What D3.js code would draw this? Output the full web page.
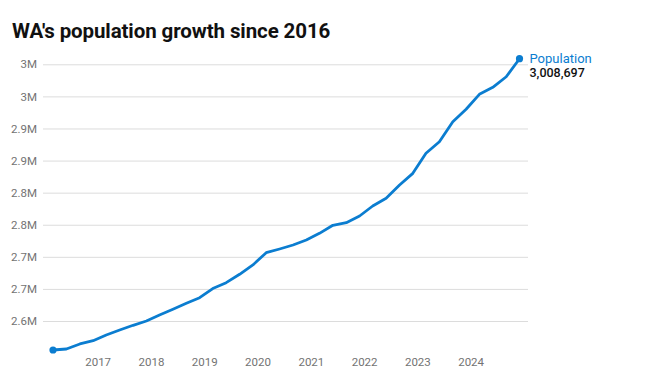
<!DOCTYPE html>
<html>
<head>
<meta charset="utf-8">
<script src="https://cdn.jsdelivr.net/npm/d3@7"></script>
<style>
  html, body { margin: 0; padding: 0; background: #fff; }
  svg { display: block; }
</style>
</head>
<body>
<svg id="chart" width="650" height="387"></svg>
<script>
// Quarterly WA population (Mar 2016 – Dec 2024)
const quarters = [
  "2016-03","2016-06","2016-09","2016-12",
  "2017-03","2017-06","2017-09","2017-12",
  "2018-03","2018-06","2018-09","2018-12",
  "2019-03","2019-06","2019-09","2019-12",
  "2020-03","2020-06","2020-09","2020-12",
  "2021-03","2021-06","2021-09","2021-12",
  "2022-03","2022-06","2022-09","2022-12",
  "2023-03","2023-06","2023-09","2023-12",
  "2024-03","2024-06","2024-09","2024-12"
];
const population = [
  2554800, 2556400, 2564200, 2569300,
  2578200, 2586000, 2593300, 2600000,
  2609300, 2618200, 2627600, 2636300,
  2650600, 2659700, 2672800, 2687300,
  2706400, 2712200, 2718400, 2726200,
  2736600, 2749100, 2753200, 2763600,
  2779200, 2791200, 2811900, 2830100,
  2861300, 2879400, 2910500, 2929900,
  2953200, 2964100, 2980600, 3008697
];
const yTicks = [2600000, 2650000, 2700000, 2750000, 2800000, 2850000, 2900000, 2950000, 3000000];
const xTickYears = [2017, 2018, 2019, 2020, 2021, 2022, 2023, 2024];
const title = "WA's population growth since 2016";
const seriesName = "Population";

const parse = d3.timeParse("%Y-%m");
const data = quarters.map((q, i) => ({ date: parse(q), value: population[i] }));

const svg = d3.select("#chart");
const blue = "#0b7dd0";

const x = d3.scaleTime()
  .domain([data[0].date, data[data.length - 1].date])
  .range([53, 519.5]);
const y = d3.scaleLinear()
  .domain([2600000, 3000000])
  .range([321, 64.3]);

// Title
svg.append("text")
  .attr("x", 12).attr("y", 38)
  .attr("font-family", "Roboto, 'Noto Sans', sans-serif")
  .attr("font-weight", 700)
  .attr("font-size", 20.5)
  .attr("letter-spacing", -0.1)
  .attr("fill", "#111")
  .text(title);

// Y axis with gridlines
const yAxis = d3.axisLeft(y)
  .tickValues(yTicks)
  .tickSize(-(528 - 43))
  .tickPadding(6)
  .tickFormat(d3.format(".2~s"));
const gy = svg.append("g").attr("transform", "translate(43,0)").call(yAxis);
gy.select(".domain").remove();
gy.selectAll(".tick line").attr("stroke", "#dcdcdc").attr("stroke-width", 1);
gy.selectAll(".tick text")
  .attr("fill", "#737373")
  .attr("font-size", 11.5)
  .attr("font-family", "Roboto, 'Noto Sans', sans-serif");

// X axis
const xAxis = d3.axisBottom(x)
  .tickValues(xTickYears.map(yr => new Date(yr, 0, 1)))
  .tickSize(0)
  .tickPadding(0)
  .tickFormat(d3.timeFormat("%Y"));
const gx = svg.append("g").attr("transform", "translate(0,355)").call(xAxis);
gx.select(".domain").remove();
gx.selectAll(".tick text")
  .attr("fill", "#737373")
  .attr("font-size", 11.5)
  .attr("dy", "0.95em")
  .attr("font-family", "Roboto, 'Noto Sans', sans-serif");

// Line
const line = d3.line().x(d => x(d.date)).y(d => y(d.value));
svg.append("path")
  .datum(data)
  .attr("fill", "none")
  .attr("stroke", blue)
  .attr("stroke-width", 2.8)
  .attr("stroke-linejoin", "round")
  .attr("stroke-linecap", "round")
  .attr("d", line);

// End dots
const first = data[0], last = data[data.length - 1];
[first, last].forEach(d => {
  svg.append("circle")
    .attr("cx", x(d.date)).attr("cy", y(d.value))
    .attr("r", 3.6).attr("fill", blue);
});

// End label
svg.append("text")
  .attr("x", x(last.date) + 10).attr("y", y(last.value) + 4.5)
  .attr("font-family", "Roboto, 'Noto Sans', sans-serif")
  .attr("font-size", 13)
  .attr("font-weight", 400)
  .attr("fill", blue)
  .text(seriesName);
svg.append("text")
  .attr("x", x(last.date) + 10).attr("y", y(last.value) + 18)
  .attr("font-family", "Roboto, 'Noto Sans', sans-serif")
  .attr("font-size", 12.5)
  .attr("font-weight", 500)
  .attr("fill", "#111")
  .text(d3.format(",")(last.value));
</script>
</body>
</html>
